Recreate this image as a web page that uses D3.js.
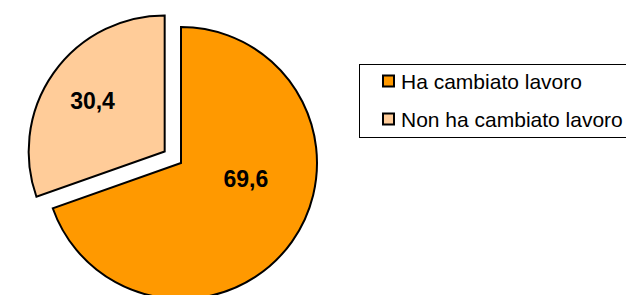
<!DOCTYPE html>
<html>
<head>
<meta charset="utf-8">
<script src="https://cdn.jsdelivr.net/npm/d3@7"></script>
<style>
  body { margin: 0; background: #fff; }
  svg { display: block; font-family: Arial, "Liberation Sans", sans-serif; }
</style>
</head>
<body>
<svg id="chart" width="626" height="295"></svg>
<script>
// data
const categories = ["Ha cambiato lavoro", "Non ha cambiato lavoro"];
const values = [69.6, 30.4];
const valueLabels = ["69,6", "30,4"];
const colors = ["#FF9900", "#FFCC99"];

const svg = d3.select("#chart");

// pie geometry
const cx = 181, cy = 163, radius = 136;
const explode = [0, 20];
// label placement: radius factor and angle shift (rad) per slice
const labelR = [0.49, 0.65];
const labelShift = [-0.38, 0];

const pie = d3.pie().sort(null).value((d) => d);
const arcs = pie(values);
const arc = d3.arc().innerRadius(0).outerRadius(radius);

const g = svg.append("g").attr("transform", "translate(" + cx + "," + cy + ")");

const slice = g
  .selectAll(".slice")
  .data(arcs)
  .enter()
  .append("g")
  .attr("class", "slice")
  .attr("transform", (d, i) => {
    const a = (d.startAngle + d.endAngle) / 2;
    return "translate(" + Math.sin(a) * explode[i] + "," + -Math.cos(a) * explode[i] + ")";
  });

slice
  .append("path")
  .attr("d", arc)
  .attr("fill", (d, i) => colors[i])
  .attr("stroke", "#000")
  .attr("stroke-width", 2)
  .attr("stroke-linejoin", "miter");

slice
  .append("text")
  .attr("x", (d, i) => {
    const a = (d.startAngle + d.endAngle) / 2 + labelShift[i];
    return Math.sin(a) * radius * labelR[i];
  })
  .attr("y", (d, i) => {
    const a = (d.startAngle + d.endAngle) / 2 + labelShift[i];
    return -Math.cos(a) * radius * labelR[i];
  })
  .attr("dy", "0.36em")
  .attr("text-anchor", "middle")
  .style("font-size", "23px")
  .style("font-weight", "bold")
  .text((d, i) => valueLabels[i]);

// legend
const legend = svg.append("g").attr("transform", "translate(359,64)");

legend
  .append("rect")
  .attr("x", 0.5)
  .attr("y", 0.5)
  .attr("width", 300)
  .attr("height", 73)
  .attr("fill", "#fff")
  .attr("stroke", "#000")
  .attr("stroke-width", 1);

const item = legend
  .selectAll(".item")
  .data(categories)
  .enter()
  .append("g")
  .attr("class", "item")
  .attr("transform", (d, i) => "translate(24," + (17 + i * 38) + ")");

item
  .append("rect")
  .attr("x", 0)
  .attr("y", -5.5)
  .attr("width", 11)
  .attr("height", 11)
  .attr("fill", (d, i) => colors[i])
  .attr("stroke", "#000")
  .attr("stroke-width", 2);

item
  .append("text")
  .attr("x", 18)
  .attr("y", 0)
  .attr("dy", "0.36em")
  .style("font-size", "21px")
  .text((d) => d);
</script>
</body>
</html>
